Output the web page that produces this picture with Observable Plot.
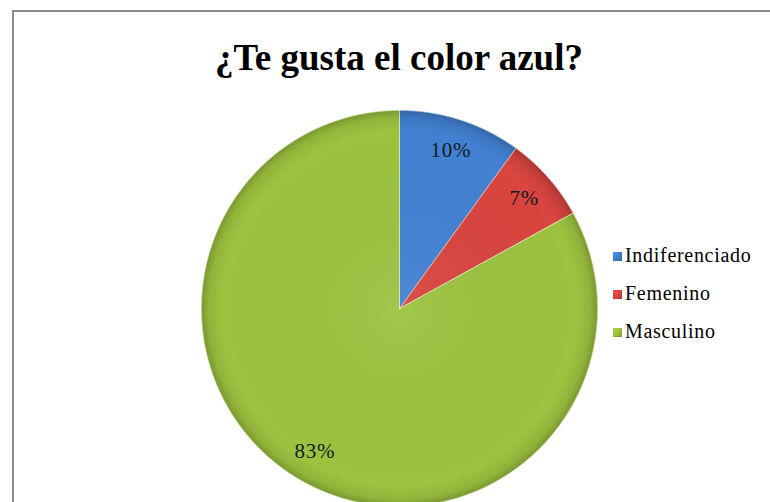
<!DOCTYPE html>
<html>
<head>
<meta charset="utf-8">
<script src="https://cdn.jsdelivr.net/npm/d3@7"></script>
<script src="https://cdn.jsdelivr.net/npm/@observablehq/plot@0.6"></script>
<style>
  html, body { margin: 0; padding: 0; background: #fff; width: 770px; height: 502px; overflow: hidden; }
  #frame { position: absolute; left: 12px; top: 10px; width: 800px; height: 520px;
           border-top: 2px solid #8a8a8a; border-left: 2px solid #8a8a8a; box-sizing: border-box; pointer-events: none; }
  #title { position: absolute; left: 0; top: 0; width: 800px; height: 95px; text-align: center;
           font-family: "Liberation Serif", "Times New Roman", serif; font-weight: bold; font-size: 37px; color: #000; }
  #title span { position: absolute; left: 0; width: 798px; top: 39px; line-height: 37px; }
  #chart { position: absolute; left: 0; top: 95px; }
  #legend { position: absolute; left: 613px; top: 236px; font-family: "Liberation Serif", "Times New Roman", serif;
            font-size: 20px; letter-spacing: 0.7px; color: #000; }
  .item { height: 38px; display: flex; align-items: center; }
  .sw { width: 9px; height: 9px; margin-right: 3px; margin-top: 2px; box-shadow: inset 0 0 1px rgba(0,0,0,0.5); }
</style>
</head>
<body>
<div id="frame"></div>
<div id="title"><span>¿Te gusta el color azul?</span></div>
<div id="chart"></div>
<div id="legend"></div>
<script>
const categories = ["Indiferenciado", "Femenino", "Masculino"];
const values = [10, 7, 83];
const labels = ["10%", "7%", "83%"];
const colors = ["#4281d2", "#d9453f", "#9cc23f"];

// Slice outlines derived from the values (angles clockwise from 12 o'clock)
const total = d3.sum(values);
const slices = [];
const labelPts = [];
let acc = 0;
categories.forEach((cat, i) => {
  const a0 = acc / total * 2 * Math.PI;
  acc += values[i];
  const a1 = acc / total * 2 * Math.PI;
  slices.push({cat, x: 0, y: 0});
  const n = Math.max(2, Math.ceil((a1 - a0) / (Math.PI / 360)));
  for (let k = 0; k <= n; k++) {
    const a = a0 + (a1 - a0) * k / n;
    slices.push({cat, x: Math.sin(a), y: Math.cos(a)});
  }
  slices.push({cat, x: 0, y: 0});
  const am = (a0 + a1) / 2;
  labelPts.push({cat, label: labels[i], x: 0.84 * Math.sin(am), y: 0.84 * Math.cos(am)});
});

const cx = 399, cy = 213, R = 198;
const plot = Plot.plot({
  width: 770,
  height: 407,
  margin: 0,
  x: {domain: [-1, 1], range: [cx - R, cx + R], axis: null},
  y: {domain: [-1, 1], range: [cy + R, cy - R], axis: null},
  color: {domain: categories, range: colors},
  marks: [
    Plot.line(slices, {x: "x", y: "y", z: "cat", fill: "cat", stroke: "cat", strokeWidth: 0.5, curve: "linear"}),
    Plot.dot([{x: 0, y: 0}], {x: "x", y: "y", r: R, fill: "url(#shade)", stroke: null}),
    Plot.line(slices, {x: "x", y: "y", z: "cat", fill: "none", stroke: "rgba(255,255,255,0.35)", strokeWidth: 1}),
    Plot.text(labelPts, {x: "x", y: "y", text: "label", fontSize: 21, fill: "#141a22",
      fontFamily: "'Liberation Serif', 'Times New Roman', serif", textAnchor: "middle", lineAnchor: "middle"})
  ]
});

const ns = "http://www.w3.org/2000/svg";
const defs = document.createElementNS(ns, "defs");
defs.innerHTML = `<radialGradient id="shade" cx="0.5" cy="0.5" r="0.5">
  <stop offset="0" stop-color="#fff" stop-opacity="0.06"/>
  <stop offset="0.9" stop-color="#000" stop-opacity="0"/>
  <stop offset="0.965" stop-color="#000" stop-opacity="0.08"/>
  <stop offset="1" stop-color="#000" stop-opacity="0.22"/>
</radialGradient>`;
plot.insertBefore(defs, plot.firstChild);
plot.style.letterSpacing = "0.8px";
document.getElementById("chart").appendChild(plot);

const legend = document.getElementById("legend");
categories.forEach((cat, i) => {
  const item = document.createElement("div");
  item.className = "item";
  const sw = document.createElement("div");
  sw.className = "sw";
  sw.style.background = `linear-gradient(135deg, ${d3.color(colors[i]).brighter(0.4)}, ${d3.color(colors[i]).darker(0.5)})`;
  const t = document.createElement("span");
  t.textContent = cat;
  item.appendChild(sw);
  item.appendChild(t);
  legend.appendChild(item);
});
</script>
</body>
</html>
